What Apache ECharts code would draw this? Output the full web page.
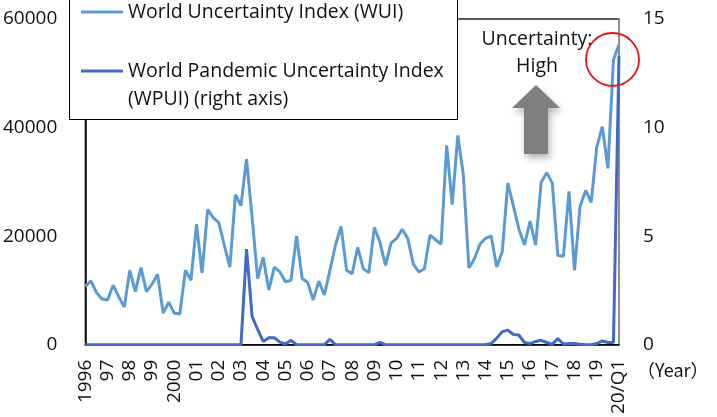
<!DOCTYPE html>
<html>
<head>
<meta charset="utf-8">
<script src="https://cdn.jsdelivr.net/npm/echarts@6/dist/echarts.min.js"></script>
<style>
  html, body { margin: 0; padding: 0; background: #fff; }
  #chart { width: 717px; height: 417px; }
</style>
</head>
<body>
<div id="chart"></div>
<script>
// Quarterly observations, 1996Q1 .. 2020Q1
const years = [1996, 1997, 1998, 1999, 2000, 2001, 2002, 2003, 2004, 2005, 2006, 2007,
  2008, 2009, 2010, 2011, 2012, 2013, 2014, 2015, 2016, 2017, 2018, 2019, 2020];
const lastYearQuarters = 1;

// Year tick labels, shown at each Q1
const yearLabels = ['1996', '97', '98', '99', '2000', '01', '02', '03', '04', '05', '06', '07',
  '08', '09', '10', '11', '12', '13', '14', '15', '16', '17', '18', '19', '20/Q1'];

// World Uncertainty Index (left axis)
const wui = [
  10670, 11760, 9630, 8420,
  8240, 10960, 8850, 6910,
  13690, 9760, 14180, 9760,
  11150, 12960, 5820, 7820,
  5820, 5640, 13690, 11870,
  22180, 13210, 24900, 23400,
  22480, 18360, 14300, 27630,
  25630, 34180, 23500, 12180,
  16120, 10060, 14300, 13400,
  11580, 11870, 20050, 12180,
  11450, 8240, 11700, 9150,
  13690, 18360, 21760, 13690,
  13090, 17940, 14000, 13270,
  21580, 18850, 14600, 18730,
  19580, 21270, 19580, 14850,
  13400, 14000, 20180, 19330,
  18540, 36720, 25820, 38540,
  31270, 14120, 15820, 18540,
  19600, 20050, 14300, 17150,
  29760, 25510, 21270, 18360,
  22780, 18360, 29940, 31690,
  29760, 16420, 16300, 28240,
  13690, 25510, 28420, 26240,
  36420, 40180, 32480, 52480,
  55320
];

// World Pandemic Uncertainty Index (right axis)
const wpui = [
  0, 0, 0, 0,
  0, 0, 0, 0,
  0, 0, 0, 0,
  0, 0, 0, 0,
  0, 0, 0, 0,
  0, 0, 0, 0,
  0, 0, 0, 0,
  0, 4.4, 1.3, 0.7,
  0.15, 0.32, 0.32, 0.12,
  0.03, 0.2, 0, 0,
  0, 0, 0, 0,
  0.24, 0, 0, 0,
  0, 0, 0, 0,
  0, 0.1, 0, 0,
  0, 0, 0, 0,
  0, 0, 0, 0,
  0, 0, 0, 0,
  0, 0, 0, 0,
  0, 0.05, 0.3, 0.6,
  0.67, 0.47, 0.44, 0.1,
  0.05, 0.15, 0.2, 0.1,
  0.02, 0.28, 0.03, 0.05,
  0.05, 0.02, 0, 0,
  0.05, 0.17, 0.1, 0.1,
  13.3
];

const leftTicks = { min: 0, max: 60000, interval: 20000 };
const rightTicks = { min: 0, max: 15, interval: 5 };

const nameWUI = 'World Uncertainty Index (WUI)';
const nameWPUI = 'World Pandemic Uncertainty Index (WPUI) (right axis)';

// Category per quarter; the year label sits on Q1
const categories = [];
const tickText = {};
years.forEach((y, yi) => {
  const nq = (yi === years.length - 1) ? lastYearQuarters : 4;
  for (let q = 1; q <= nq; q++) {
    const key = y + 'Q' + q;
    if (q === 1) tickText[key] = yearLabels[yi];
    categories.push(key);
  }
});

const FONT = 'Open Sans';
const TXT = '#111';
const chart = echarts.init(document.getElementById('chart'), null, { renderer: 'canvas' });

chart.setOption({
  animation: false,
  backgroundColor: '#fff',
  textStyle: { fontFamily: FONT },
  grid: {
    left: 81, right: 98, top: 19, bottom: 70,
    show: true, borderColor: '#222', borderWidth: 1.3, backgroundColor: 'transparent'
  },
  xAxis: {
    type: 'category',
    data: categories,
    boundaryGap: false,
    axisLine: { lineStyle: { color: '#000', width: 1.5 } },
    axisTick: { show: false },
    axisLabel: {
      rotate: 90,
      margin: 15,
      interval: (i, v) => tickText[v] !== undefined,
      formatter: v => tickText[v] || '',
      color: TXT, fontSize: 19, fontFamily: FONT
    },
    name: '\uFF08Year\uFF09',
    nameLocation: 'end',
    nameGap: 18,
    nameTextStyle: {
      color: TXT, fontSize: 18, fontFamily: 'Noto Sans CJK JP',
      verticalAlign: 'top', align: 'left', padding: [16, 0, 0, 0]
    },
    splitLine: { show: false }
  },
  yAxis: [
    {
      type: 'value',
      min: leftTicks.min, max: leftTicks.max, interval: leftTicks.interval,
      position: 'left',
      axisLine: { show: true, lineStyle: { color: '#000', width: 1.5 } },
      axisTick: { show: false },
      splitLine: { show: false },
      axisLabel: { margin: 28, color: TXT, fontSize: 19, fontFamily: FONT, formatter: v => String(v) }
    },
    {
      type: 'value',
      min: rightTicks.min, max: rightTicks.max, interval: rightTicks.interval,
      position: 'right',
      axisLine: { show: true, lineStyle: { color: '#9a9a9a', width: 1.5 } },
      axisTick: { show: false },
      splitLine: { show: false },
      axisLabel: { margin: 24, color: TXT, fontSize: 19, fontFamily: FONT }
    }
  ],
  legend: [
    {
      data: [nameWUI],
      left: 81, top: 0, padding: 0,
      icon: 'rect', itemWidth: 42, itemHeight: 3,
      selectedMode: false, z: 10,
      textStyle: { fontSize: 19.5, color: TXT, fontFamily: FONT, lineHeight: 24 }
    },
    {
      data: [nameWPUI],
      left: 81, top: 33, padding: 0,
      icon: 'rect', itemWidth: 42, itemHeight: 3,
      selectedMode: false, z: 10,
      formatter: () => '{s| }\n{a|World Pandemic Uncertainty Index}\n{a|(WPUI) (right axis)}',
      textStyle: {
        fontSize: 19.5, color: TXT, fontFamily: FONT,
        rich: {
          s: { lineHeight: 28, fontSize: 19.5, fontFamily: FONT },
          a: { lineHeight: 28, fontSize: 19.5, color: TXT, fontFamily: FONT }
        }
      }
    }
  ],
  graphic: [
    // legend frame
    {
      type: 'rect', z: 5, silent: true,
      shape: { x: 69.5, y: -10, width: 388, height: 129.5 },
      style: { fill: '#fff', stroke: '#000', lineWidth: 1 }
    },
    // annotation text
    {
      type: 'text', z: 6, silent: true,
      x: 537, y: 26,
      style: {
        text: 'Uncertainty:\nHigh', align: 'center', verticalAlign: 'top',
        fontSize: 19.5, lineHeight: 27, fontFamily: FONT, fill: TXT
      }
    },
    // upward arrow
    {
      type: 'polygon', z: 6, silent: true,
      shape: {
        points: [[512, 108], [536, 85], [560, 108], [548, 108], [548, 154], [524, 154], [524, 108]]
      },
      style: {
        fill: '#7f7f7f',
        shadowBlur: 7, shadowOffsetX: 2, shadowOffsetY: 4, shadowColor: 'rgba(0,0,0,0.3)'
      }
    },
    // highlight ring around the latest quarter
    {
      type: 'circle', z: 6, silent: true,
      shape: { cx: 612.5, cy: 59.5, r: 26.5 },
      style: { fill: 'none', stroke: '#ee1111', lineWidth: 1.8 }
    }
  ],
  series: [
    {
      name: nameWUI,
      type: 'line',
      yAxisIndex: 0,
      data: wui,
      symbol: 'none',
      lineStyle: { color: '#5b9bd5', width: 3 },
      itemStyle: { color: '#5b9bd5' },
      z: 2
    },
    {
      name: nameWPUI,
      type: 'line',
      yAxisIndex: 1,
      data: wpui,
      symbol: 'none',
      lineStyle: { color: '#4169c8', width: 3 },
      itemStyle: { color: '#4169c8' },
      z: 3
    }
  ]
});
</script>
</body>
</html>
